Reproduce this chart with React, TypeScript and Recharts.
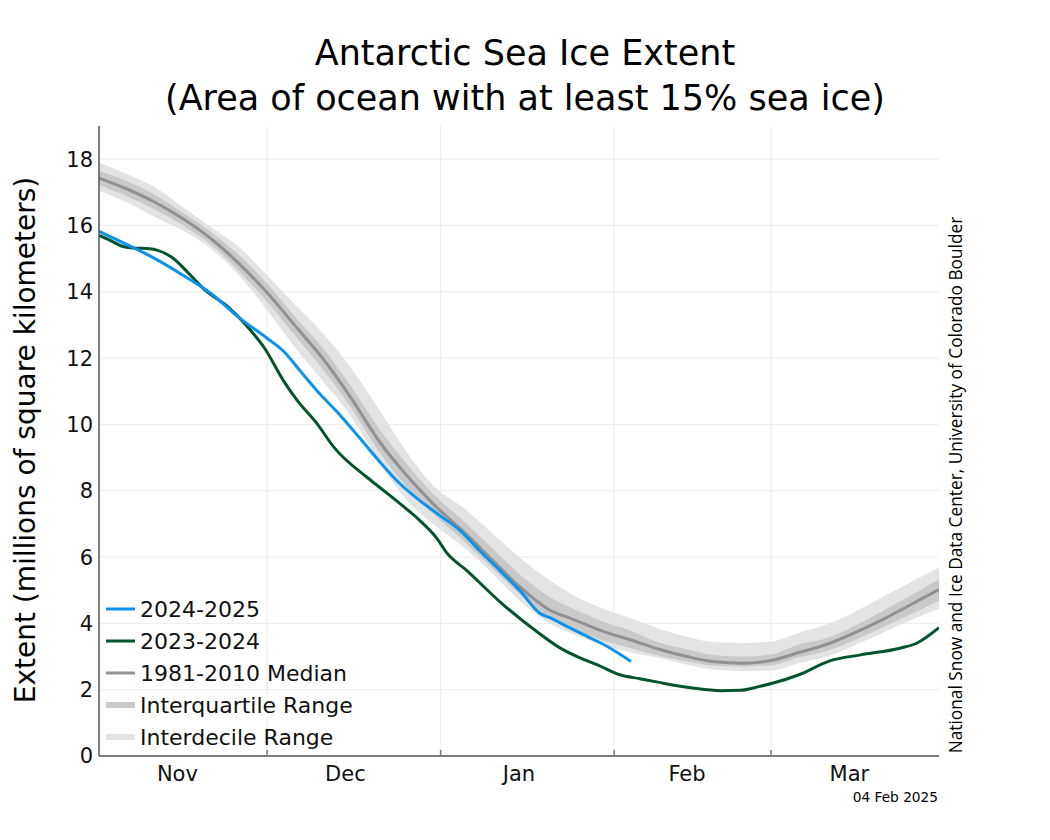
import React from "react"
import { ComposedChart, Area, Line, XAxis, YAxis, CartesianGrid, Legend } from "recharts"

// day index: 0 = 1 Nov, 150 = 31 Mar
const climDays = [0, 5, 10, 15, 20, 25, 30, 35, 40, 45, 50, 55, 60, 65, 70, 75, 80, 85, 90, 95, 100, 105, 110, 115, 120, 125, 130, 135, 140, 145, 150]
const median = [17.43, 17.1, 16.7, 16.2, 15.6, 14.85, 13.98, 12.98, 11.98, 10.8, 9.5, 8.45, 7.55, 6.78, 5.95, 5.12, 4.45, 4.1, 3.76, 3.5, 3.22, 3.0, 2.84, 2.8, 2.88, 3.12, 3.37, 3.72, 4.12, 4.57, 5.02]
const p10 = [17.05, 16.7, 16.25, 15.85, 15.3, 14.5, 13.45, 12.32, 11.3, 10.25, 8.88, 7.7, 6.95, 6.32, 5.55, 4.7, 4.05, 3.65, 3.35, 3.12, 2.96, 2.75, 2.6, 2.56, 2.58, 2.8, 3.0, 3.35, 3.72, 4.1, 4.44]
const p25 = [17.22, 16.88, 16.48, 16.0, 15.42, 14.63, 13.7, 12.68, 11.65, 10.5, 9.18, 8.1, 7.25, 6.5, 5.7, 4.9, 4.2, 3.8, 3.48, 3.25, 3.02, 2.85, 2.72, 2.7, 2.74, 2.98, 3.17, 3.5, 3.88, 4.28, 4.68]
const p75 = [17.65, 17.33, 16.92, 16.38, 15.8, 15.1, 14.25, 13.25, 12.3, 11.15, 9.88, 8.8, 7.85, 7.1, 6.3, 5.5, 4.85, 4.42, 4.06, 3.78, 3.42, 3.22, 3.04, 3.0, 3.06, 3.36, 3.56, 3.93, 4.38, 4.85, 5.32]
const p90 = [17.9, 17.55, 17.15, 16.55, 15.95, 15.35, 14.5, 13.62, 12.75, 11.7, 10.45, 9.15, 8.1, 7.5, 6.75, 6.0, 5.35, 4.82, 4.45, 4.15, 3.84, 3.6, 3.43, 3.41, 3.45, 3.72, 3.97, 4.35, 4.8, 5.25, 5.68]

const days2425 = [0, 5, 10, 15, 20, 25, 30, 33, 36, 39, 42.5, 46.6, 50.2, 53.75, 57.3, 60.9, 64.5, 68, 71.6, 75.2, 78.75, 80.5, 84, 87, 91, 95]
const extent2425 = [15.82, 15.42, 15.0, 14.5, 13.95, 13.22, 12.6, 12.2, 11.6, 11.0, 10.38, 9.58, 8.86, 8.21, 7.7, 7.25, 6.8, 6.19, 5.59, 4.98, 4.3, 4.17, 3.87, 3.62, 3.28, 2.85]

const days2324 = [0, 2, 4, 6, 9, 10.5, 13, 16, 19, 23, 26.6, 29.6, 32.9, 35.5, 38.9, 42, 47.9, 50.2, 53.75, 57.3, 60.4, 62, 65.7, 72, 78.75, 82.3, 85.9, 89, 93, 96.6, 100, 106, 111, 114.5, 118, 120.4, 125, 130.5, 136, 143, 146, 150]
const extent2324 = [15.7, 15.55, 15.38, 15.32, 15.3, 15.25, 15.04, 14.56, 14.04, 13.55, 12.93, 12.29, 11.33, 10.7, 10.03, 9.3, 8.4, 8.09, 7.61, 7.1, 6.55, 6.15, 5.59, 4.59, 3.68, 3.26, 2.96, 2.75, 2.45, 2.33, 2.22, 2.05, 1.97, 1.98, 2.1, 2.2, 2.45, 2.87, 3.05, 3.25, 3.4, 3.87]

const monthLabels = ["Nov", "Dec", "Jan", "Feb", "Mar"]
const monthLabelDays = [14, 44, 75, 105, 134]
const monthStartDays = [30, 61, 92, 120]
const yTicks = [0, 2, 4, 6, 8, 10, 12, 14, 16, 18]

const legendLabels = ["2024-2025", "2023-2024", "1981-2010 Median", "Interquartile Range", "Interdecile Range"]
const legendColors = ["#0a92ee", "#02542a", "#949494", "#c9c9c9", "#e3e3e3"]
const legendWidths = [3, 3, 3, 6, 6]

const climRows = climDays.map((day, i) => ({
  day,
  decile: [p10[i], p90[i]],
  quartile: [p25[i], p75[i]],
  median: median[i]
}))
const rows2425 = days2425.map((day, i) => ({ day, extent: extent2425[i] }))
const rows2324 = days2324.map((day, i) => ({ day, extent: extent2324[i] }))

const FONT = "'DejaVu Sans', sans-serif"

const LegendBox = () => (
  <svg width={270} height={165}>
    {legendLabels.map((label, i) => {
      const y = 17 + i * 32
      return (
        <g key={label}>
          <line x1={2} x2={31} y1={y} y2={y} stroke={legendColors[i]} strokeWidth={legendWidths[i]} />
          <text x={36} y={y} dominantBaseline="central" fontSize={22} fill="#111" fontFamily={FONT}>
            {label}
          </text>
        </g>
      )
    })}
  </svg>
)

export default function App() {
  return (
    <div style={{ position: "absolute", left: 0, top: 0, width: 1050, height: 840, background: "#fff", fontFamily: FONT }}>
      <ComposedChart
        width={1050}
        height={840}
        data={climRows}
        margin={{ top: 126, right: 111, left: 39, bottom: 54 }}
      >
        <CartesianGrid
          xAxisId="month"
          stroke="#ececec"
          strokeWidth={1}
          horizontalValues={yTicks}
          verticalValues={monthStartDays}
        />
        <XAxis
          xAxisId="month"
          dataKey="day"
          type="number"
          domain={[0, 150]}
          ticks={monthStartDays}
          height={1}
          mirror
          tickSize={6}
          tick={() => <g />}
          stroke="#555"
          axisLine={{ stroke: "#555", strokeWidth: 1.5 }}
          tickLine={{ stroke: "#777", strokeWidth: 1.5 }}
          allowDataOverflow
        />
        <XAxis
          dataKey="day"
          type="number"
          domain={[0, 150]}
          ticks={monthLabelDays}
          tickFormatter={(v: number) => monthLabels[monthLabelDays.indexOf(v)]}
          height={30}
          axisLine={false}
          tickLine={false}
          tickSize={0}
          tickMargin={10}
          tick={{ fontSize: 21, fill: "#111" }}
          allowDataOverflow
        />
        <YAxis
          type="number"
          domain={[0, 19]}
          ticks={yTicks}
          width={60}
          axisLine={{ stroke: "#555", strokeWidth: 1.5 }}
          tickLine={false}
          tickSize={0}
          tickMargin={6}
          tick={{ fontSize: 21, fill: "#111" }}
          allowDataOverflow
        />
        <Area type="monotone" dataKey="decile" fill="#e3e3e3" fillOpacity={1} stroke="none" isAnimationActive={false} />
        <Area type="monotone" dataKey="quartile" fill="#c9c9c9" fillOpacity={1} stroke="none" isAnimationActive={false} />
        <Line type="monotone" dataKey="median" stroke="#919191" strokeWidth={3} dot={false} isAnimationActive={false} />
        <Line data={rows2324} type="monotone" dataKey="extent" stroke="#02542a" strokeWidth={3} dot={false} isAnimationActive={false} />
        <Line data={rows2425} type="monotone" dataKey="extent" stroke="#0a92ee" strokeWidth={3} dot={false} isAnimationActive={false} />
        <Legend
          layout="vertical"
          align="center"
          verticalAlign="middle"
          content={() => <LegendBox />}
          wrapperStyle={{ position: "absolute", left: 104, top: 592, width: 270, height: 165 }}
        />
      </ComposedChart>
      <svg width={1050} height={840} style={{ position: "absolute", left: 0, top: 0, pointerEvents: "none" }}>
        <text x={525} y={65} textAnchor="middle" fontSize={35} fill="#000" fontFamily={FONT}>
          Antarctic Sea Ice Extent
        </text>
        <text x={525} y={110} textAnchor="middle" fontSize={35} fill="#000" fontFamily={FONT}>
          (Area of ocean with at least 15% sea ice)
        </text>
        <text
          x={25}
          y={440}
          textAnchor="middle"
          dominantBaseline="central"
          fontSize={28}
          fill="#000"
          fontFamily={FONT}
          transform="rotate(-90 25 440)"
        >
          Extent (millions of square kilometers)
        </text>
        <text
          x={955}
          y={485}
          textAnchor="middle"
          dominantBaseline="central"
          fontSize={17.3}
          fill="#000"
          fontFamily="'Open Sans', sans-serif"
          transform="rotate(-90 955 485)"
        >
          National Snow and Ice Data Center, University of Colorado Boulder
        </text>
        <text x={938} y={802} textAnchor="end" fontSize={13.7} fill="#000" fontFamily={FONT}>
          04 Feb 2025
        </text>
      </svg>
    </div>
  )
}
